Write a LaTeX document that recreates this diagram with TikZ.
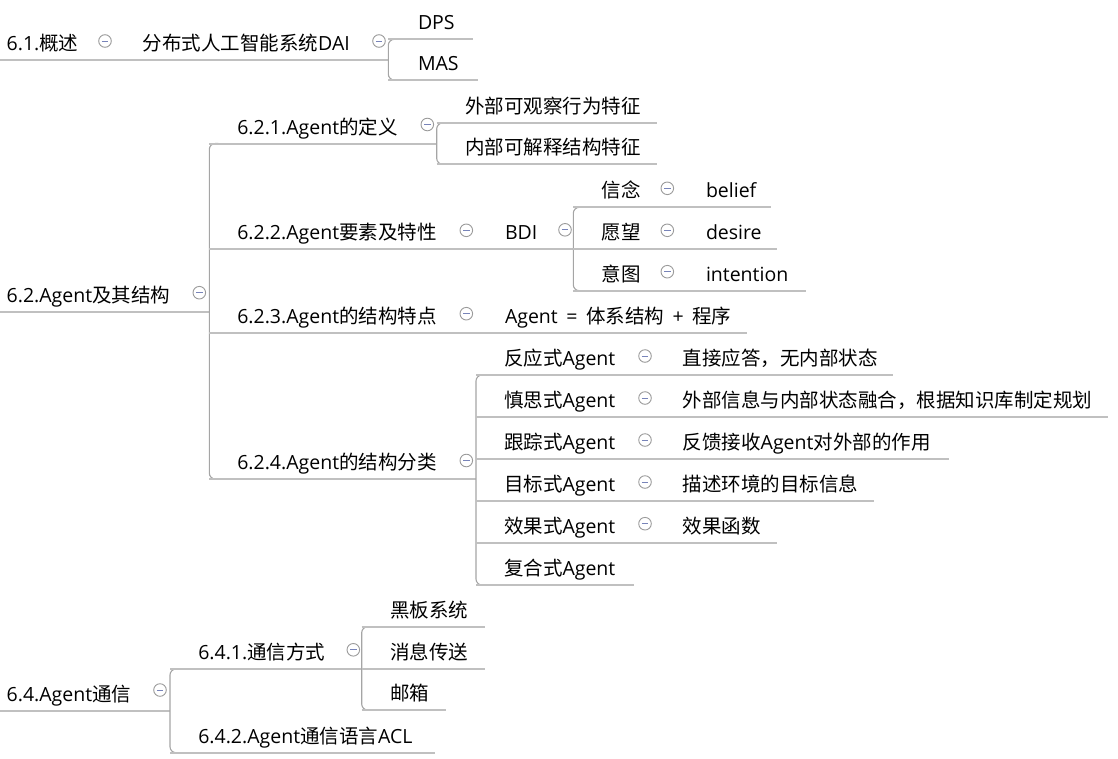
\documentclass[tikz,border=0pt]{standalone}
\usepackage{fontspec}
\setmainfont{Noto Sans CJK SC}
\newfontfamily\latfont{Open Sans}
\newcommand\la[1]{{\latfont #1}}
\definecolor{lc}{RGB}{192,192,192}
\definecolor{bc}{RGB}{165,165,165}
\definecolor{cc}{RGB}{155,155,155}
\definecolor{mc}{RGB}{120,132,185}
\tikzset{
  topic/.style={anchor=base west, inner sep=0pt, outer sep=0pt, text=black,
    font=\fontsize{19.5}{23}\selectfont},
  uline/.style={draw=lc, line width=2pt},
  brk/.style={draw=bc, line width=1.1pt, rounded corners=6pt},
  fold/.style={circle, draw=cc, line width=0.9pt, fill=white, minimum size=12.6pt,
    inner sep=0pt,
    path picture={\draw[mc, line width=1pt]
      ([xshift=-3.2pt]path picture bounding box.center) --
      ([xshift=3.2pt]path picture bounding box.center);}}
}
% topic: name, x, underline y, line start x, line end x, text
\newcommand\tp[6]{%
  \draw[uline] (#4,#3) -- (#5,#3);
  \node[topic] (#1) at (#2,#3-9.4) {#6};}
% fold icon: name, x, y
\newcommand\fd[3]{\node[fold] (#1) at (#2,#3) {};}
% bracket: name, x, top y, bottom y
\newcommand\bk[4]{%
  \coordinate (#1t) at (#2,#3);
  \coordinate (#1b) at (#2,#4);
  \draw[brk] ([xshift=9pt]#1t) -- (#1t) -- (#1b) -- ([xshift=9pt]#1b);}
\begin{document}
\begin{tikzpicture}[x=1pt,y=-1pt]
\useasboundingbox (0,0) rectangle (1118,758);

% ---------------- 6.1
\tp{s61}{6.7}{60}{0}{388.3}{\la{6.1.}概述}
\node[topic] (s611) at (142.7,60-9.4) {分布式人工智能系统\la{DAI}};
\bk{b61}{388.3}{39.3}{80}
\tp{dps}{418}{39.3}{388.3}{473.3}{\la{DPS}}
\tp{mas}{418}{80}{388.3}{478}{\la{MAS}}
\fd{f61}{105}{41}
\fd{f611}{379}{41}

% ---------------- 6.2
\tp{s62}{6.7}{311.5}{0}{209.3}{\la{6.2.Agent}及其结构}
\fd{f62}{199.3}{292.7}
\bk{b62}{209.3}{143.5}{479}

\tp{s621}{237.3}{143.5}{209.3}{436.7}{\la{6.2.1.Agent}的定义}
\fd{f621}{427.3}{124.5}
\bk{b621}{436.7}{123}{164.3}
\tp{w1}{465}{123}{436.7}{656.7}{外部可观察行为特征}
\tp{w2}{465}{164.3}{436.7}{656.7}{内部可解释结构特征}

\tp{s622}{237.3}{249.3}{209.3}{573.3}{\la{6.2.2.Agent}要素及特性}
\fd{f622}{466.3}{230.3}
\node[topic] (bdi) at (505,249.3-9.4) {\la{BDI}};
\fd{fbdi}{565}{229.8}
\bk{bb}{573.3}{207.3}{290.7}
\tp{xn}{601.7}{207.3}{573.3}{771}{信念}
\fd{fxn}{667.3}{188.3}
\node[topic] (bel) at (706,207.3-9.4) {\la{belief}};
\tp{yw}{601.7}{249.3}{573.3}{776.7}{愿望}
\fd{fyw}{667.3}{230.3}
\node[topic] (des) at (706,249.3-9.4) {\la{desire}};
\tp{yt}{601.7}{290.7}{573.3}{806}{意图}
\fd{fyt}{667.3}{271.7}
\node[topic] (int) at (706,290.7-9.4) {\la{intention}};

\tp{s623}{237.3}{332.7}{209.3}{746.7}{\la{6.2.3.Agent}的结构特点}
\fd{f623}{466.3}{313.7}
\node[topic] (ag) at (505,332.7-9.4) {\la{Agent\hspace{3.5pt} =\hspace{3.5pt} }体系结构\la{\hspace{3.5pt} +\hspace{3.5pt} }程序};

\tp{s624}{237.3}{479}{209.3}{476}{\la{6.2.4.Agent}的结构分类}
\fd{f624}{466.3}{460.5}
\bk{b624}{476}{375}{585}
\tp{r1}{504}{375}{476}{893.3}{反应式\la{Agent}}
\fd{fr1}{645}{356}
\node[topic] (r1a) at (682.7,375-9.4) {直接应答，无内部状态};
\tp{r2}{504}{417}{476}{1108.3}{慎思式\la{Agent}}
\fd{fr2}{645}{398}
\node[topic] (r2a) at (682.7,417-9.4) {外部信息与内部状态融合，根据知识库制定规划};
\tp{r3}{504}{459}{476}{949.3}{跟踪式\la{Agent}}
\fd{fr3}{645}{440}
\node[topic] (r3a) at (682.7,459-9.4) {反馈接收\la{Agent}对外部的作用};
\tp{r4}{504}{501}{476}{874.3}{目标式\la{Agent}}
\fd{fr4}{645}{482}
\node[topic] (r4a) at (682.7,501-9.4) {描述环境的目标信息};
\tp{r5}{504}{542.7}{476}{776.7}{效果式\la{Agent}}
\fd{fr5}{645}{523.7}
\node[topic] (r5a) at (682.7,542.7-9.4) {效果函数};
\tp{r6}{504}{585}{476}{634}{复合式\la{Agent}}

% ---------------- 6.4
\tp{s64}{6.7}{711}{0}{170}{\la{6.4.Agent}通信}
\fd{f64}{160}{690}
\bk{b64}{170}{669}{752.7}
\tp{s641}{198.3}{669}{170}{361.7}{\la{6.4.1.}通信方式}
\fd{f641}{353.3}{649.8}
\bk{b641}{361.7}{626.7}{710}
\tp{hb}{390}{626.7}{361.7}{485}{黑板系统}
\tp{xx}{390}{669}{361.7}{485}{消息传送}
\tp{yx}{390}{710}{361.7}{446}{邮箱}
\tp{s642}{198.3}{752.7}{170}{435}{\la{6.4.2.Agent}通信语言\la{ACL}}

\end{tikzpicture}
\end{document}
